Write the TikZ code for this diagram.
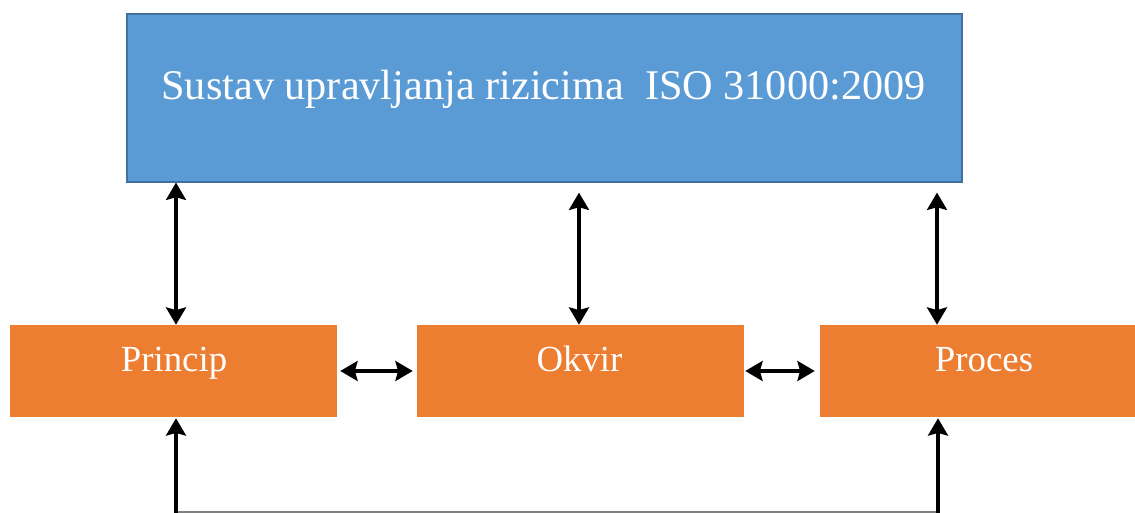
\documentclass[tikz,border=0pt]{standalone}
\usepackage{fontspec}
\setmainfont{Liberation Serif}
\usetikzlibrary{arrows.meta,calc}
\definecolor{boxblue}{HTML}{5B9BD5}
\definecolor{boxblueedge}{HTML}{41719C}
\definecolor{boxorange}{HTML}{ED7D31}
\tikzset{
 bigtip/.tip={Stealth[length=13pt,width=15pt,inset=2pt]},
 bluebox/.style={draw=boxblueedge, line width=0.9pt, fill=boxblue, minimum width=626.25pt, minimum height=126pt, inner sep=0pt},
 orangebox/.style={fill=boxorange, minimum width=245.25pt, minimum height=69pt, inner sep=0pt},
 titletext/.style={text=white, anchor=base, inner sep=0pt, font=\fontsize{31.7}{38}\selectfont},
 boxtext/.style={text=white, anchor=base, inner sep=0pt, font=\fontsize{27.6}{33}\selectfont},
 dbl/.style={draw=black, line width=2.4pt, bigtip-bigtip},
 onearrow/.style={draw=black, line width=2.4pt, -bigtip},
 feedline/.style={draw=gray, line width=0.8pt}}
\begin{document}
\begin{tikzpicture}[x=0.75pt,y=-0.75pt]
\useasboundingbox (0,0) rectangle (1135,513);
\node[bluebox] (sys) at (544.5,98) {};
\node[orangebox] (princip) at (173.5,371) {};
\node[orangebox] (okvir) at (580.5,371) {};
\node[orangebox] (proces) at (983.5,371) {};
\node[titletext] (t0) at (543.5,100) {Sustav upravljanja rizicima\ \ ISO 31000:2009};
\node[boxtext] (t1) at (174,371) {Princip};
\node[boxtext] (t2) at (579.5,371) {Okvir};
\node[boxtext] (t3) at (984,371) {Proces};
% vertical connectors
\coordinate (pt1) at ($(princip.north)+(2.5,0)$);
\coordinate (ok1) at ($(okvir.north)+(-1.5,0)$);
\coordinate (pr1) at ($(proces.north)+(-46.5,0)$);
\draw[dbl] (sys.south -| pt1) -- (pt1);
\draw[dbl] ($(sys.south -| ok1)+(0,10)$) -- (ok1);
\draw[dbl] ($(sys.south -| pr1)+(0,10)$) -- (pr1);
% horizontal connectors
\draw[dbl, shorten <=2.25pt, shorten >=3pt] (princip) -- (okvir);
\draw[dbl, shorten <=0.75pt, shorten >=3.75pt] (okvir) -- (proces);
% bottom feedback
\coordinate (bl) at (176,514);
\coordinate (br) at (938,514);
\coordinate (bl2) at (176,512);
\coordinate (br2) at (938,512);
\draw[feedline] (bl2) -- (br2);
\draw[onearrow, shorten >=0.75pt] (bl) -- (princip.south -| bl);
\draw[onearrow, shorten >=0.75pt] (br) -- (proces.south -| br);
\end{tikzpicture}
\end{document}
